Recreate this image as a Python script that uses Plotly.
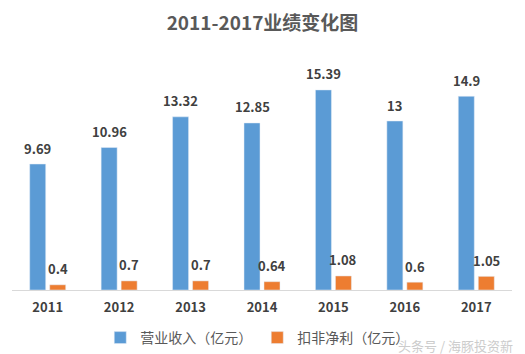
import plotly.graph_objects as go

years = ["2011", "2012", "2013", "2014", "2015", "2016", "2017"]
revenue = [9.69, 10.96, 13.32, 12.85, 15.39, 13, 14.9]
profit = [0.4, 0.7, 0.7, 0.64, 1.08, 0.6, 1.05]
rev_labels = ["9.69", "10.96", "13.32", "12.85", "15.39", "13", "14.9"]
pro_labels = ["0.4", "0.7", "0.7", "0.64", "1.08", "0.6", "1.05"]

FONT = "Noto Sans CJK SC, Microsoft YaHei, sans-serif"

fig = go.Figure()
fig.add_trace(go.Bar(x=years, y=revenue, name="营业收入（亿元）", marker_color="#5B9BD5"))
fig.add_trace(go.Bar(x=years, y=profit, name="扣非净利（亿元）", marker_color="#ED7D31"))

annos = []
for i, (v, t) in enumerate(zip(revenue, rev_labels)):
    annos.append(dict(x=i, y=v, text=t, xref="x", yref="y", showarrow=False,
                      xshift=-10, yshift=16, font=dict(family=FONT, size=13, color="#404040", weight="bold")))
for i, (v, t) in enumerate(zip(profit, pro_labels)):
    annos.append(dict(x=i, y=v, text=t, xref="x", yref="y", showarrow=False,
                      xshift=10, yshift=16, font=dict(family=FONT, size=13, color="#404040", weight="bold")))
# watermark (plot area spans x 12..512, y 56..290 in pixels)
annos.append(dict(x=(515 - 12) / 500, y=(290 - 345) / 234, xref="paper", yref="paper",
                  xanchor="right", yanchor="middle",
                  text="头条号 / 海豚投资新", showarrow=False,
                  font=dict(family=FONT, size=13, color="#CCCCCC")))

fig.update_layout(
    width=525, height=354,
    margin=dict(l=12, r=13, t=56, b=64, autoexpand=False),
    paper_bgcolor="white", plot_bgcolor="white",
    barmode="group", bargap=0.44, bargroupgap=0.2,
    title=dict(text="2011-2017业绩变化图", x=0.5, xanchor="center", y=1 - 23 / 354, yanchor="middle",
               font=dict(family=FONT, size=19, color="#595959", weight="bold")),
    xaxis=dict(type="category", range=[-0.5, 6.5], showline=True, linecolor="#D9D9D9", linewidth=1,
               ticks="", showgrid=False, ticklabelstandoff=5,
               tickfont=dict(family=FONT, size=13, color="#404040", weight="bold")),
    yaxis=dict(range=[0, 18], visible=False, showgrid=False, zeroline=False),
    legend=dict(orientation="h", x=0.49, xanchor="center", xref="container",
                y=1 - 338 / 354, yanchor="middle", yref="container",
                font=dict(family=FONT, size=14, color="#595959"), itemwidth=30),
    annotations=annos,
    showlegend=True,
)
fig.write_html("out.html")
